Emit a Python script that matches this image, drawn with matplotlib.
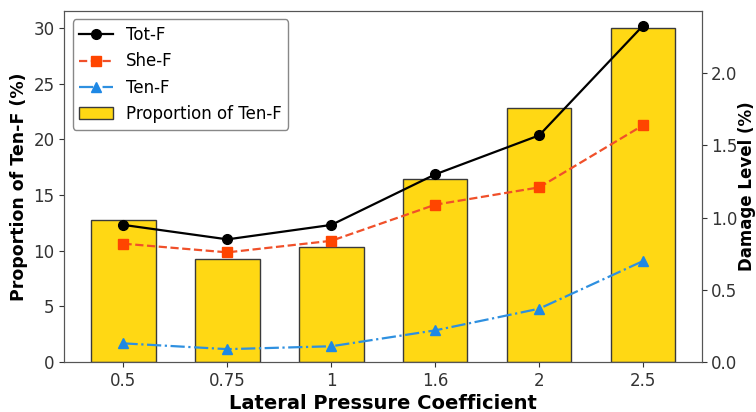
import numpy as np
import matplotlib
matplotlib.use("Agg")
import matplotlib.pyplot as plt

# lateral pressure coefficient cases
coeffs = ["0.5", "0.75", "1", "1.6", "2", "2.5"]
prop_ten = [12.8, 9.3, 10.3, 16.4, 22.8, 30.0]      # proportion of Ten-F (%)
tot_f = [0.95, 0.85, 0.95, 1.30, 1.57, 2.33]        # damage level (%)
she_f = [0.82, 0.76, 0.84, 1.09, 1.21, 1.64]
ten_f = [0.13, 0.09, 0.11, 0.22, 0.37, 0.70]

x = np.arange(len(coeffs))

fig = plt.figure(figsize=(7.56, 4.12), dpi=100)
ax = fig.add_axes([0.085, 0.121, 0.844, 0.852])
bars = ax.bar(x, prop_ten, 0.62, color="#FFD814", edgecolor="#3a3a3a", linewidth=1.0,
              label="Proportion of Ten-F")
ax.set_xlim(-0.57, 5.57)
ax.set_ylim(0, 31.5)
ax.set_xticks(x)
ax.set_xticklabels(coeffs)
ax.set_yticks(np.arange(0, 31, 5))
ax.set_xlabel("Lateral Pressure Coefficient", fontsize=14, fontweight="bold", labelpad=3)
ax.set_ylabel("Proportion of Ten-F (%)", fontsize=12.5, fontweight="bold")
ax.tick_params(labelsize=12, colors="#333333")

ax2 = ax.twinx()
l1, = ax2.plot(x, tot_f, "-o", color="black", lw=1.6, ms=7, label="Tot-F")
l2, = ax2.plot(x, she_f, "--s", color="#F0502A", mfc="#FF4500", mec="#FF4500", lw=1.6, ms=7, label="She-F")
l3, = ax2.plot(x, ten_f, "-.^", color="#2E90E0", mfc="#1E88E5", mec="#1E88E5", lw=1.6, ms=7, label="Ten-F")
ax2.set_ylim(0, 2.43)
ax2.set_yticks([0, 0.5, 1.0, 1.5, 2.0])
ax2.set_ylabel("Damage Level (%)", fontsize=12, fontweight="bold", labelpad=1)
ax2.tick_params(labelsize=12, colors="#333333", length=3.5, pad=2.5)

for a in (ax, ax2):
    for s in a.spines.values():
        s.set_color("#555555")

ax2.legend([l1, l2, l3, bars], ["Tot-F", "She-F", "Ten-F", "Proportion of Ten-F"],
           loc="upper left", fontsize=12, framealpha=1, edgecolor="#888888",
           borderaxespad=0.5)

fig.savefig("out.png", dpi=100, facecolor="white")
